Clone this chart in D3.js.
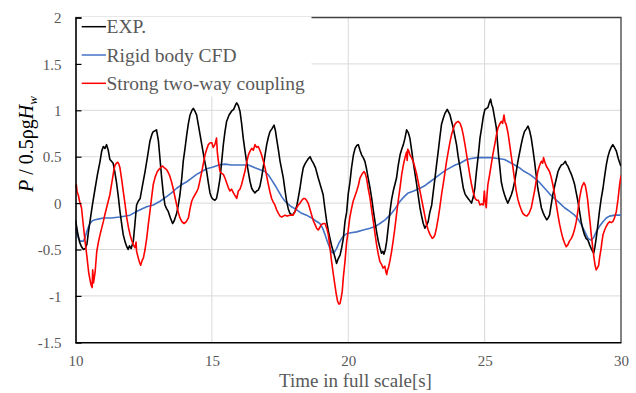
<!DOCTYPE html>
<html>
<head>
<meta charset="utf-8">
<script src="https://cdn.jsdelivr.net/npm/d3@7"></script>
<style>
  html, body { margin: 0; padding: 0; background: #fff; }
  svg { display: block; }
  svg text { font-family: "Liberation Serif", "Times New Roman", serif !important; }
</style>
</head>
<body>
<svg id="chart" width="636" height="393"></svg>
<script>
// Wave pressure time histories, [time (s), P / 0.5ρgHw]
const expData = [
  [10.00,-0.18],[10.08,-0.32],[10.15,-0.42],[10.22,-0.47],[10.29,-0.50],[10.36,-0.49],[10.42,-0.44],[10.47,-0.32],
  [10.53,-0.20],[10.62,-0.02],[10.72,0.16],[10.80,0.30],[10.90,0.45],[10.96,0.56],[11.02,0.61],[11.08,0.59],
  [11.14,0.63],[11.20,0.57],[11.26,0.47],[11.32,0.45],[11.38,0.43],[11.44,0.34],[11.50,0.23],[11.57,0.07],
  [11.63,-0.09],[11.70,-0.24],[11.75,-0.34],[11.82,-0.42],[11.88,-0.47],[11.93,-0.50],[11.98,-0.46],[12.04,-0.49],
  [12.12,-0.41],[12.18,-0.22],[12.24,-0.02],[12.30,0.02],[12.37,0.05],[12.45,0.18],[12.55,0.34],[12.64,0.50],
  [12.73,0.67],[12.80,0.74],[12.85,0.77],[12.92,0.78],[12.97,0.79],[13.04,0.67],[13.10,0.47],[13.16,0.27],
  [13.22,0.10],[13.28,-0.02],[13.34,-0.06],[13.40,-0.09],[13.48,-0.16],[13.56,-0.22],[13.62,-0.19],[13.71,-0.11],
  [13.77,-0.02],[13.83,0.09],[13.90,0.28],[13.95,0.45],[14.02,0.60],[14.08,0.74],[14.14,0.86],[14.20,0.95],
  [14.27,1.00],[14.32,1.02],[14.38,0.99],[14.44,0.95],[14.53,0.80],[14.63,0.63],[14.72,0.48],[14.81,0.34],
  [14.87,0.22],[14.93,0.11],[14.99,0.06],[15.05,0.04],[15.11,0.03],[15.17,0.05],[15.23,0.14],[15.30,0.27],
  [15.36,0.45],[15.42,0.63],[15.48,0.77],[15.54,0.88],[15.63,0.95],[15.72,0.99],[15.80,1.01],[15.87,1.06],
  [15.91,1.08],[15.97,1.05],[16.03,0.99],[16.09,0.86],[16.15,0.70],[16.21,0.57],[16.27,0.45],[16.34,0.33],
  [16.40,0.23],[16.46,0.16],[16.52,0.13],[16.58,0.11],[16.64,0.13],[16.70,0.14],[16.76,0.18],[16.82,0.27],
  [16.88,0.38],[16.95,0.52],[17.01,0.63],[17.07,0.71],[17.13,0.77],[17.20,0.80],[17.28,0.84],[17.33,0.78],
  [17.37,0.70],[17.44,0.57],[17.50,0.45],[17.56,0.36],[17.62,0.27],[17.68,0.14],[17.74,0.02],[17.80,-0.06],
  [17.86,-0.11],[17.95,-0.13],[18.05,-0.09],[18.12,-0.02],[18.17,0.06],[18.23,0.16],[18.29,0.28],[18.35,0.38],
  [18.41,0.42],[18.47,0.45],[18.54,0.48],[18.60,0.50],[18.66,0.46],[18.72,0.43],[18.80,0.38],[18.90,0.27],
  [19.00,0.17],[19.08,0.09],[19.14,-0.05],[19.21,-0.20],[19.27,-0.30],[19.33,-0.38],[19.39,-0.46],[19.45,-0.52],
  [19.51,-0.58],[19.57,-0.65],[19.63,-0.60],[19.70,-0.56],[19.76,-0.48],[19.82,-0.38],[19.88,-0.20],[19.94,-0.10],
  [20.00,0.10],[20.06,0.22],[20.12,0.38],[20.19,0.52],[20.25,0.59],[20.31,0.62],[20.37,0.63],[20.43,0.57],
  [20.49,0.52],[20.55,0.49],[20.61,0.45],[20.67,0.37],[20.73,0.27],[20.80,0.16],[20.86,0.05],[20.92,-0.08],
  [20.98,-0.20],[21.04,-0.31],[21.10,-0.41],[21.16,-0.48],[21.22,-0.54],[21.27,-0.52],[21.31,-0.55],[21.36,-0.50],
  [21.41,-0.41],[21.47,-0.25],[21.53,-0.09],[21.59,0.04],[21.65,0.13],[21.71,0.20],[21.77,0.27],[21.83,0.40],
  [21.90,0.52],[21.96,0.58],[22.02,0.63],[22.08,0.70],[22.14,0.79],[22.20,0.76],[22.26,0.70],[22.32,0.58],
  [22.38,0.45],[22.44,0.33],[22.51,0.20],[22.57,0.07],[22.63,-0.05],[22.69,-0.14],[22.75,-0.22],[22.81,-0.27],
  [22.87,-0.24],[22.93,-0.20],[22.99,-0.10],[23.06,-0.02],[23.12,0.13],[23.18,0.27],[23.24,0.42],[23.30,0.56],
  [23.36,0.71],[23.42,0.85],[23.49,0.92],[23.55,0.97],[23.63,1.01],[23.68,0.98],[23.73,0.95],[23.79,0.88],
  [23.85,0.81],[23.91,0.72],[23.97,0.63],[24.03,0.50],[24.10,0.38],[24.16,0.27],[24.22,0.16],[24.28,0.10],
  [24.34,0.07],[24.42,0.04],[24.52,0.00],[24.58,0.06],[24.64,0.16],[24.70,0.34],[24.77,0.52],[24.83,0.70],
  [24.89,0.81],[24.95,0.93],[25.01,1.01],[25.07,1.02],[25.12,1.03],[25.17,1.08],[25.22,1.12],[25.26,1.06],
  [25.30,1.03],[25.36,0.93],[25.43,0.81],[25.47,0.66],[25.51,0.52],[25.56,0.38],[25.61,0.23],[25.67,0.15],
  [25.73,0.09],[25.79,0.04],[25.85,0.00],[25.91,0.04],[25.98,0.09],[26.04,0.15],[26.10,0.23],[26.16,0.34],
  [26.22,0.45],[26.28,0.54],[26.34,0.63],[26.40,0.71],[26.46,0.77],[26.53,0.80],[26.59,0.83],[26.65,0.78],
  [26.71,0.70],[26.77,0.58],[26.83,0.45],[26.89,0.30],[26.95,0.16],[27.02,0.05],[27.08,-0.05],[27.14,-0.10],
  [27.20,-0.14],[27.28,-0.18],[27.33,-0.16],[27.38,-0.13],[27.44,-0.02],[27.50,0.09],[27.58,0.20],[27.69,0.34],
  [27.75,0.38],[27.81,0.41],[27.88,0.42],[27.96,0.45],[28.00,0.42],[28.05,0.40],[28.12,0.35],[28.18,0.31],
  [28.24,0.26],[28.30,0.20],[28.36,0.11],[28.42,0.02],[28.48,-0.09],[28.54,-0.20],[28.60,-0.28],[28.66,-0.34],
  [28.72,-0.38],[28.79,-0.40],[28.85,-0.45],[28.91,-0.49],[28.96,-0.52],[29.00,-0.54],[29.04,-0.48],[29.09,-0.38],
  [29.15,-0.24],[29.21,-0.09],[29.27,0.04],[29.34,0.16],[29.40,0.29],[29.46,0.41],[29.52,0.50],[29.58,0.56],
  [29.64,0.60],[29.70,0.63],[29.76,0.60],[29.83,0.56],[29.90,0.48],[29.98,0.41],[30.00,0.40]
];

const rigidData = [
  [10.00,-0.27],[10.08,-0.36],[10.17,-0.41],[10.29,-0.41],[10.35,-0.37],[10.41,-0.31],[10.47,-0.26],[10.53,-0.22],
  [10.62,-0.19],[10.72,-0.18],[10.87,-0.17],[11.02,-0.16],[11.30,-0.16],[11.63,-0.15],[12.00,-0.13],[12.24,-0.09],
  [12.45,-0.06],[12.61,-0.04],[12.85,-0.02],[13.10,0.02],[13.34,0.07],[13.52,0.11],[13.71,0.16],[13.90,0.20],
  [14.08,0.23],[14.26,0.27],[14.44,0.31],[14.63,0.34],[14.81,0.37],[15.05,0.39],[15.25,0.41],[15.48,0.42],
  [15.72,0.41],[15.97,0.41],[16.34,0.41],[16.58,0.38],[16.77,0.36],[16.95,0.34],[17.08,0.30],[17.19,0.25],
  [17.32,0.19],[17.44,0.13],[17.56,0.07],[17.68,0.02],[17.80,-0.01],[17.92,-0.04],[18.10,-0.07],[18.29,-0.11],
  [18.47,-0.13],[18.66,-0.16],[18.80,-0.19],[18.96,-0.22],[19.06,-0.27],[19.15,-0.34],[19.24,-0.42],[19.33,-0.49],
  [19.40,-0.53],[19.45,-0.54],[19.51,-0.52],[19.57,-0.49],[19.66,-0.43],[19.76,-0.38],[19.85,-0.35],[19.94,-0.33],
  [20.10,-0.32],[20.31,-0.31],[20.55,-0.29],[20.80,-0.27],[21.00,-0.25],[21.16,-0.22],[21.35,-0.18],[21.53,-0.13],
  [21.72,-0.06],[21.90,0.02],[22.05,0.07],[22.20,0.11],[22.40,0.13],[22.63,0.16],[22.82,0.19],[23.00,0.23],
  [23.18,0.27],[23.36,0.31],[23.55,0.35],[23.73,0.38],[23.92,0.41],[24.10,0.43],[24.34,0.47],[24.52,0.48],
  [24.71,0.49],[25.01,0.49],[25.24,0.49],[25.48,0.48],[25.73,0.47],[25.92,0.44],[26.10,0.41],[26.28,0.38],
  [26.46,0.34],[26.65,0.31],[26.83,0.27],[27.02,0.22],[27.20,0.16],[27.38,0.10],[27.56,0.05],[27.75,0.00],
  [27.93,-0.05],[28.12,-0.09],[28.30,-0.13],[28.42,-0.17],[28.54,-0.23],[28.66,-0.30],[28.79,-0.38],[28.91,-0.40],
  [29.00,-0.37],[29.09,-0.31],[29.21,-0.25],[29.34,-0.20],[29.46,-0.16],[29.58,-0.14],[29.79,-0.13],[30.00,-0.13]
];

const couplingData = [
  [10.00,0.16],[10.03,0.20],[10.06,0.12],[10.10,0.09],[10.15,0.02],[10.22,-0.05],[10.28,-0.22],[10.35,-0.41],
  [10.42,-0.58],[10.48,-0.74],[10.54,-0.84],[10.58,-0.89],[10.61,-0.91],[10.63,-0.72],[10.66,-0.86],[10.72,-0.74],
  [10.78,-0.52],[10.84,-0.42],[10.90,-0.34],[10.96,-0.27],[11.02,-0.20],[11.08,-0.12],[11.14,-0.05],[11.20,0.02],
  [11.26,0.09],[11.31,0.18],[11.36,0.27],[11.41,0.36],[11.45,0.41],[11.50,0.43],[11.55,0.44],[11.59,0.42],
  [11.63,0.38],[11.69,0.26],[11.75,0.13],[11.82,-0.02],[11.88,-0.16],[11.94,-0.26],[12.00,-0.34],[12.06,-0.40],
  [12.12,-0.45],[12.18,-0.48],[12.22,-0.42],[12.24,-0.52],[12.30,-0.59],[12.35,-0.64],[12.39,-0.67],[12.44,-0.62],
  [12.49,-0.59],[12.55,-0.50],[12.61,-0.38],[12.67,-0.23],[12.73,-0.09],[12.79,0.06],[12.85,0.20],[12.92,0.28],
  [13.00,0.34],[13.08,0.37],[13.14,0.39],[13.19,0.40],[13.26,0.38],[13.34,0.36],[13.40,0.33],[13.46,0.29],
  [13.52,0.23],[13.58,0.16],[13.65,0.06],[13.71,-0.02],[13.77,-0.10],[13.83,-0.16],[13.90,-0.20],[13.98,-0.22],
  [14.06,-0.20],[14.14,-0.16],[14.20,-0.06],[14.26,0.02],[14.32,0.06],[14.38,0.09],[14.44,0.12],[14.50,0.16],
  [14.56,0.24],[14.63,0.34],[14.69,0.43],[14.75,0.52],[14.81,0.58],[14.87,0.63],[14.94,0.65],[15.00,0.65],
  [15.05,0.60],[15.11,0.63],[15.17,0.70],[15.20,0.55],[15.24,0.45],[15.30,0.34],[15.36,0.32],[15.42,0.31],
  [15.48,0.27],[15.54,0.22],[15.60,0.17],[15.66,0.13],[15.72,0.15],[15.79,0.11],[15.85,0.08],[15.91,0.05],
  [15.97,0.13],[16.03,0.15],[16.09,0.20],[16.15,0.27],[16.21,0.34],[16.27,0.43],[16.34,0.52],[16.40,0.56],
  [16.46,0.59],[16.52,0.57],[16.58,0.63],[16.64,0.60],[16.70,0.61],[16.76,0.57],[16.82,0.52],[16.88,0.46],
  [16.95,0.38],[17.01,0.29],[17.07,0.20],[17.13,0.12],[17.19,0.05],[17.25,0.01],[17.31,-0.02],[17.37,-0.07],
  [17.44,-0.11],[17.50,-0.14],[17.56,-0.15],[17.62,-0.14],[17.68,-0.13],[17.76,-0.14],[17.86,-0.13],[17.98,-0.13],
  [18.05,-0.09],[18.11,-0.05],[18.17,-0.02],[18.23,0.00],[18.30,0.03],[18.36,0.05],[18.41,0.05],[18.47,0.03],
  [18.53,0.00],[18.60,-0.07],[18.66,-0.13],[18.72,-0.19],[18.78,-0.23],[18.84,-0.27],[18.90,-0.29],[18.96,-0.26],
  [19.02,-0.23],[19.09,-0.22],[19.15,-0.22],[19.21,-0.27],[19.27,-0.34],[19.33,-0.48],[19.39,-0.63],[19.45,-0.76],
  [19.51,-0.88],[19.56,-0.98],[19.61,-1.06],[19.66,-1.09],[19.70,-1.08],[19.74,-1.02],[19.78,-0.95],[19.82,-0.80],
  [19.88,-0.63],[19.94,-0.42],[19.98,-0.34],[20.06,-0.15],[20.12,-0.06],[20.18,0.02],[20.25,0.08],[20.31,0.13],
  [20.37,0.19],[20.43,0.27],[20.50,0.31],[20.58,0.34],[20.62,0.32],[20.67,0.27],[20.73,0.16],[20.80,0.05],
  [20.86,-0.08],[20.92,-0.20],[20.98,-0.33],[21.04,-0.45],[21.10,-0.55],[21.16,-0.63],[21.22,-0.66],[21.28,-0.70],
  [21.34,-0.68],[21.38,-0.74],[21.41,-0.77],[21.44,-0.72],[21.47,-0.70],[21.53,-0.62],[21.59,-0.52],[21.65,-0.40],
  [21.71,-0.27],[21.77,-0.12],[21.83,0.02],[21.90,0.17],[21.96,0.31],[22.02,0.41],[22.08,0.49],[22.14,0.55],
  [22.16,0.46],[22.18,0.58],[22.22,0.56],[22.26,0.52],[22.32,0.49],[22.38,0.45],[22.44,0.39],[22.51,0.31],
  [22.57,0.22],[22.63,0.13],[22.69,0.04],[22.75,-0.05],[22.81,-0.14],[22.87,-0.23],[22.93,-0.29],[23.00,-0.34],
  [23.08,-0.38],[23.13,-0.37],[23.18,-0.34],[23.24,-0.26],[23.30,-0.16],[23.36,-0.04],[23.42,0.09],[23.49,0.22],
  [23.55,0.34],[23.61,0.46],[23.67,0.56],[23.73,0.66],[23.79,0.74],[23.85,0.80],[23.91,0.85],[23.97,0.87],
  [24.03,0.88],[24.10,0.86],[24.16,0.81],[24.22,0.73],[24.28,0.63],[24.34,0.52],[24.40,0.41],[24.46,0.30],
  [24.52,0.20],[24.58,0.12],[24.65,0.05],[24.71,0.03],[24.77,0.03],[24.83,-0.02],[24.89,-0.01],[24.95,-0.02],
  [24.99,0.13],[25.02,0.02],[25.06,-0.05],[25.09,0.10],[25.12,0.20],[25.18,0.30],[25.24,0.41],[25.30,0.52],
  [25.37,0.63],[25.43,0.73],[25.49,0.81],[25.55,0.85],[25.61,0.88],[25.66,0.86],[25.71,0.95],[25.75,0.87],
  [25.79,0.85],[25.86,0.75],[25.92,0.63],[25.98,0.50],[26.04,0.38],[26.10,0.25],[26.16,0.13],[26.22,0.04],
  [26.28,-0.02],[26.34,-0.07],[26.40,-0.11],[26.47,-0.13],[26.55,-0.14],[26.63,-0.11],[26.71,-0.05],[26.77,0.04],
  [26.83,0.13],[26.89,0.24],[26.95,0.34],[27.02,0.41],[27.08,0.45],[27.13,0.43],[27.16,0.49],[27.21,0.44],
  [27.26,0.40],[27.32,0.37],[27.38,0.34],[27.44,0.28],[27.50,0.20],[27.57,0.09],[27.63,-0.02],[27.69,-0.13],
  [27.75,-0.23],[27.81,-0.31],[27.87,-0.38],[27.93,-0.43],[27.99,-0.47],[28.05,-0.45],[28.11,-0.41],[28.18,-0.38],
  [28.24,-0.34],[28.30,-0.28],[28.36,-0.20],[28.42,-0.08],[28.48,0.05],[28.53,0.13],[28.57,0.18],[28.64,0.22],
  [28.69,0.19],[28.73,0.13],[28.78,0.03],[28.82,-0.09],[28.87,-0.22],[28.91,-0.34],[28.96,-0.47],[29.01,-0.59],
  [29.05,-0.67],[29.09,-0.72],[29.13,-0.70],[29.18,-0.67],[29.22,-0.58],[29.27,-0.49],[29.30,-0.42],[29.34,-0.34],
  [29.40,-0.29],[29.46,-0.25],[29.52,-0.22],[29.58,-0.20],[29.64,-0.21],[29.70,-0.20],[29.76,-0.16],[29.83,-0.09],
  [29.89,0.04],[29.95,0.20],[30.00,0.30]
];

const xTicks = [10, 15, 20, 25, 30];
const yTicks = [-1.5, -1, -0.5, 0, 0.5, 1, 1.5, 2];
const seriesNames = ["EXP.", "Rigid body CFD", "Strong two-way coupling"];
const seriesColors = ["#000000", "#4472C4", "#FF0000"];
const xTitle = "Time in full scale[s]";

const FONT = '"Liberation Serif", "Times New Roman", serif';
const svg = d3.select("#chart");
const plot = { left: 75.5, right: 621, top: 17.5, bottom: 342.3 };

const x = d3.scaleLinear().domain([10, 30]).range([plot.left, plot.right]);
const y = d3.scaleLinear().domain([-1.5, 2]).range([plot.bottom, plot.top]);

// tick labels use a plain hyphen for negatives
const tickFmt = d => String(d);

// grid
const grid = svg.append("g").attr("stroke", "#d9d9d9").attr("stroke-width", 1);
grid.selectAll("line.h").data(yTicks.filter(d => d > -1.5 && d < 2)).join("line")
  .attr("x1", plot.left).attr("x2", plot.right)
  .attr("y1", d => y(d)).attr("y2", d => y(d));
grid.selectAll("line.v").data(xTicks.filter(d => d > 10 && d < 30)).join("line")
  .attr("x1", d => x(d)).attr("x2", d => x(d))
  .attr("y1", plot.top).attr("y2", plot.bottom);

// outer frame (top / right)
svg.append("path")
  .attr("d", `M${plot.left},${plot.top}H${plot.right}V${plot.bottom}`)
  .attr("fill", "none").attr("stroke", "#404040").attr("stroke-width", 1.3);

// series
svg.append("defs").append("clipPath").attr("id", "clip")
  .append("rect").attr("x", plot.left).attr("y", plot.top)
  .attr("width", plot.right - plot.left).attr("height", plot.bottom - plot.top);

const line = d3.line().x(d => x(d[0])).y(d => y(d[1]));
const lines = svg.append("g").attr("clip-path", "url(#clip)");
[[rigidData, 1], [expData, 0], [couplingData, 2]].forEach(([data, i]) => {
  lines.append("path").datum(data)
    .attr("d", line)
    .attr("fill", "none")
    .attr("stroke", seriesColors[i])
    .attr("stroke-width", 1.6)
    .attr("stroke-linejoin", "round");
});

// legend
const legend = svg.append("g");
legend.append("rect")
  .attr("x", plot.left).attr("y", plot.top - 1)
  .attr("width", 236).attr("height", 80)
  .attr("fill", "#fff");
seriesNames.forEach((name, i) => {
  const cy = 26.7 + i * 28.3;
  legend.append("line")
    .attr("x1", 81.7).attr("x2", 106)
    .attr("y1", cy).attr("y2", cy)
    .attr("stroke", seriesColors[i]).attr("stroke-width", 1.5);
  legend.append("text")
    .attr("x", 106.5).attr("y", cy + 6.6)
    .style("font-family", FONT)
    .attr("font-size", 19.5).attr("fill", "#595959")
    .text(name);
});

// left axis with inward ticks
const yAxis = d3.axisLeft(y).tickValues(yTicks).tickSize(-6).tickFormat(tickFmt);
const yAxisG = svg.append("g").attr("transform", `translate(${plot.left},0)`).call(yAxis);
yAxisG.select(".domain").attr("stroke", "#000").attr("stroke-width", 1.6);
yAxisG.selectAll(".tick line").attr("stroke", "#000").attr("stroke-width", 1.2);
yAxisG.selectAll(".tick text")
  .attr("x", -14).attr("dy", "0.35em")
  .style("font-family", FONT).style("font-size", "15px")
  .attr("fill", "#595959");

// bottom axis
const xAxis = d3.axisBottom(x).tickValues(xTicks).tickSize(0).tickFormat(tickFmt);
const xAxisG = svg.append("g").attr("transform", `translate(0,${plot.bottom})`).call(xAxis);
xAxisG.select(".domain").attr("stroke", "#000").attr("stroke-width", 1.6);
xAxisG.selectAll(".tick text")
  .attr("y", 24).attr("dy", 0)
  .style("font-family", FONT).style("font-size", "15px")
  .attr("fill", "#595959");

// axis titles
svg.append("text")
  .attr("x", 355.5).attr("y", 387)
  .attr("text-anchor", "middle")
  .style("font-family", FONT)
  .attr("font-size", 19).attr("fill", "#595959")
  .text(xTitle);

const yTitle = svg.append("text")
  .attr("transform", "translate(32.5,192) rotate(-90)")
  .style("font-family", FONT)
  .attr("font-size", 20).attr("fill", "#000");
yTitle.append("tspan").attr("font-style", "italic").text("P");
yTitle.append("tspan").text(" / 0.5ρg");
yTitle.append("tspan").attr("font-style", "italic").text("H");
yTitle.append("tspan").attr("font-style", "italic").attr("font-size", 13).attr("dy", 4).text("w");
</script>
</body>
</html>
